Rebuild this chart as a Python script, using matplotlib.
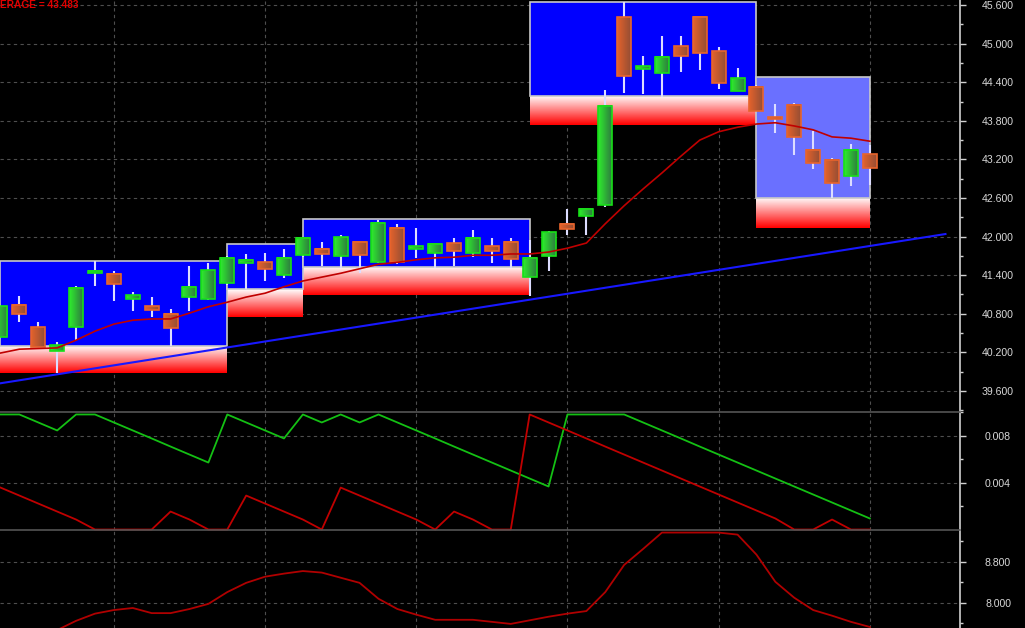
import numpy as np
import matplotlib
matplotlib.use('Agg')
import matplotlib.pyplot as plt
from matplotlib.lines import Line2D
from matplotlib.patches import Rectangle
from matplotlib.ticker import FixedLocator, FormatStrFormatter

# ---------------- data ----------------
opens = [40.44, 40.94, 40.59, 40.22, 40.59, 41.43, 41.42, 41.03, 40.92, 40.80,
         41.06, 41.03, 41.28, 41.59, 41.60, 41.40, 41.71, 41.81, 41.70, 41.92,
         41.60, 42.13, 41.81, 41.74, 41.90, 41.74, 41.85, 41.92, 41.37, 41.70,
         42.20, 42.32, 42.49, 45.41, 44.61, 44.54, 44.96, 45.41, 44.88, 44.27,
         44.33, 43.86, 44.05, 43.35, 43.19, 42.94, 43.28]
highs = [40.93, 41.08, 40.67, 40.36, 41.23, 41.62, 41.47, 41.14, 41.06, 40.87,
         41.54, 41.59, 41.70, 41.73, 41.74, 41.81, 42.00, 41.92, 42.02, 41.93,
         42.26, 42.20, 42.13, 41.89, 41.98, 42.10, 41.98, 41.98, 41.95, 42.09,
         42.43, 42.44, 44.28, 45.65, 44.81, 45.12, 45.12, 45.42, 44.95, 44.62,
         44.35, 44.06, 44.08, 43.64, 43.22, 43.44, 43.42]
lows = [40.43, 40.67, 40.25, 39.88, 40.39, 41.23, 41.00, 40.84, 40.75, 40.30,
        40.84, 41.02, 41.25, 41.19, 41.31, 41.36, 41.69, 41.54, 41.51, 41.43,
        41.59, 41.58, 41.67, 41.51, 41.54, 41.68, 41.59, 41.51, 41.07, 41.47,
        42.02, 42.02, 42.46, 44.23, 44.22, 44.17, 44.56, 44.59, 44.29, 44.26,
        43.93, 43.61, 43.27, 43.05, 42.60, 42.79, 42.80]
closes = [40.92, 40.80, 40.28, 40.31, 41.20, 41.47, 41.26, 41.09, 40.86, 40.58,
          41.22, 41.48, 41.67, 41.64, 41.50, 41.67, 41.98, 41.73, 41.99, 41.71,
          42.21, 41.60, 41.85, 41.88, 41.78, 41.98, 41.78, 41.65, 41.67, 42.07,
          42.12, 42.43, 44.03, 44.50, 44.65, 44.79, 44.81, 44.85, 44.39, 44.47,
          43.95, 43.83, 43.55, 43.14, 42.83, 43.35, 43.07]

sma = [40.19, 40.25, 40.26, 40.27, 40.39, 40.53, 40.64, 40.70, 40.72, 40.72,
       40.81, 40.91, 40.98, 41.06, 41.12, 41.22, 41.31, 41.37, 41.43, 41.50,
       41.57, 41.60, 41.64, 41.67, 41.68, 41.71, 41.71, 41.73, 41.73, 41.76,
       41.82, 41.90, 42.20, 42.48, 42.74, 42.99, 43.25, 43.50, 43.63, 43.70,
       43.75, 43.77, 43.72, 43.66, 43.55, 43.53, 43.483]
sma_label = "ERAGE = 43.483"

box_start = [0, 12, 16, 28, 40]
box_end = [12, 16, 28, 40, 46]
box_top = [41.62, 41.885, 42.27, 45.65, 44.48]
box_mid = [40.30, 41.185, 41.53, 44.19, 42.60]
box_bottom = [39.88, 40.75, 41.09, 43.73, 42.13]
box_colors = ['#0000ff', '#0000ff', '#0000ff', '#0000ff', '#6a70ff']

trend_x = [0, 50]
trend_y = [39.72, 42.04]

green_osc = [0.00979, 0.00979, 0.00911, 0.00843, 0.00979, 0.00979, 0.00911, 0.00843,
             0.00775, 0.00706, 0.00638, 0.00570, 0.00979, 0.00911, 0.00843, 0.00775,
             0.00979, 0.00911, 0.00979, 0.00911, 0.00979, 0.00911, 0.00843, 0.00775,
             0.00706, 0.00638, 0.00570, 0.00502, 0.00434, 0.00366, 0.00979, 0.00979,
             0.00979, 0.00979, 0.00911, 0.00843, 0.00775, 0.00706, 0.00638, 0.00570,
             0.00502, 0.00434, 0.00366, 0.00298, 0.00230, 0.00162, 0.00094]
red_osc = [0.00357, 0.00289, 0.00221, 0.00153, 0.00085, 0.0, 0.0, 0.0,
           0.0, 0.00153, 0.00085, 0.0, 0.0, 0.00289, 0.00221, 0.00153,
           0.00085, 0.0, 0.00357, 0.00289, 0.00221, 0.00153, 0.00085, 0.0,
           0.00153, 0.00085, 0.0, 0.0, 0.00979, 0.00911, 0.00843, 0.00775,
           0.00706, 0.00638, 0.00570, 0.00502, 0.00434, 0.00366, 0.00298, 0.00230,
           0.00162, 0.00094, 0.0, 0.0, 0.00085, 0.0, 0.0]

lower_curve = [7.00, 7.10, 7.28, 7.47, 7.65, 7.79, 7.86, 7.90, 7.80, 7.80,
               7.88, 7.98, 8.21, 8.39, 8.51, 8.57, 8.62, 8.59, 8.49, 8.39,
               8.08, 7.88, 7.77, 7.67, 7.67, 7.67, 7.63, 7.59, 7.66, 7.73,
               7.79, 7.84, 8.21, 8.74, 9.05, 9.37, 9.37, 9.37, 9.37, 9.33,
               8.94, 8.41, 8.10, 7.86, 7.75, 7.63, 7.53]

price_ticks = [39.6, 40.2, 40.8, 41.4, 42.0, 42.6, 43.2, 43.8, 44.4, 45.0, 45.6]
price_minor = [39.3, 39.9, 40.5, 41.1, 41.7, 42.3, 42.9, 43.5, 44.1, 44.7, 45.3]
mid_ticks = [0.004, 0.008]
mid_minor = [0.002, 0.006, 0.00998]
low_ticks = [8.0, 8.8]
low_minor = [7.6, 8.4, 9.2]
vgrid = [6, 14, 22, 30, 38, 46]

# ---------------- figure ----------------
W, H = 1025, 628
fig = plt.figure(figsize=(W / 100, H / 100), dpi=100, facecolor='black')
AXR = 960


def add_ax(y0, y1):
    return fig.add_axes([0, 1 - y1 / H, AXR / W, (y1 - y0) / H])


ax = add_ax(0, 411)
axm = add_ax(412, 530)
axb = add_ax(530, 628)
axm.set_zorder(3)

n = len(opens)
xs = np.arange(n)
FONT = 'Liberation Sans'
LBL = '#d8d8d8'

for a in (ax, axm, axb):
    a.set_facecolor('black')
    for s in ('left', 'top', 'bottom'):
        a.spines[s].set_visible(False)
    a.spines['right'].set_color('#d0d0d0')
    a.spines['right'].set_linewidth(1.2)
    a.yaxis.tick_right()
    a.set_xticks(vgrid)
    a.tick_params(axis='x', length=0, labelbottom=False)
    a.tick_params(axis='y', which='major', direction='out', length=4.3, width=1,
                  color='#d0d0d0', labelcolor=LBL, labelsize=7.6, pad=23.1)
    a.tick_params(axis='y', which='minor', direction='out', length=2.2, width=1,
                  color='#d0d0d0')
    a.grid(True, which='major', color='#4e4e4e', linestyle=(0, (3, 3)), lw=0.8)
    a.set_axisbelow(True)

# ---- boxes ----
for s, e, t, m, b, c in zip(box_start, box_end, box_top, box_mid, box_bottom, box_colors):
    t_ = np.linspace(0, 1, 64)
    grad = np.zeros((64, 1, 3))
    grad[:, 0, 0] = 1.0
    grad[:, 0, 1] = 1 - t_
    grad[:, 0, 2] = 1 - t_
    ax.imshow(grad, extent=[s, e, b, m], aspect='auto', origin='upper',
              interpolation='bilinear', zorder=1)
    ax.add_patch(Rectangle((s, m), e - s, t - m, facecolor=c, edgecolor='#c8c8c8',
                           lw=1.2, zorder=1.5))

# ---- candles ----
bw = 0.74
g_left, g_right = np.array([46, 235, 46]) / 255, np.array([47, 125, 63]) / 255
o_left, o_right = np.array([226, 98, 44]) / 255, np.array([150, 78, 52]) / 255
for i in range(n):
    o, h, l, c = opens[i], highs[i], lows[i], closes[i]
    up = c >= o
    ax.vlines(i, l, h, color='#dcdcff', lw=1.5, zorder=3)
    lo, hi = min(o, c), max(o, c)
    left, right = (g_left, g_right) if up else (o_left, o_right)
    tt = np.linspace(0, 1, 16)[None, :, None]
    img = left[None, None, :] * (1 - tt) + right[None, None, :] * tt
    ax.imshow(img, extent=[i - bw / 2, i + bw / 2, lo, hi], aspect='auto',
              interpolation='bilinear', zorder=4)
    ax.add_patch(Rectangle((i - bw / 2, lo), bw, hi - lo, fill=False,
                           edgecolor='#18e018' if up else '#e8642c', lw=1.2, zorder=5))

ax.plot(xs, sma, color='#c00000', lw=1.2, zorder=6)
ax.plot(trend_x, trend_y, color='#1818ff', lw=1.5, zorder=7)

ax.set_xlim(-0.026, 50.77)
ax.set_ylim(39.289, 45.678)
ax.yaxis.set_major_locator(FixedLocator(price_ticks))
ax.yaxis.set_minor_locator(FixedLocator(price_minor))
ax.yaxis.set_major_formatter(FormatStrFormatter('%.3f'))

# ---- middle oscillator ----
axm.plot(xs, green_osc, color='#14c014', lw=1.3, zorder=4, clip_on=False)
axm.plot(xs, red_osc, color='#c00000', lw=1.3, zorder=4, clip_on=False)
axm.set_xlim(-0.026, 50.77)
axm.set_ylim(-0.00004, 0.0100)
axm.yaxis.set_major_locator(FixedLocator(mid_ticks))
axm.yaxis.set_minor_locator(FixedLocator(mid_minor))
axm.yaxis.set_major_formatter(FormatStrFormatter('%.3f'))

# ---- lower curve ----
axb.plot(xs, lower_curve, color='#b00000', lw=1.3, zorder=4)
axb.set_xlim(-0.026, 50.77)
axb.set_ylim(7.51, 9.42)
axb.yaxis.set_major_locator(FixedLocator(low_ticks))
axb.yaxis.set_minor_locator(FixedLocator(low_minor))
axb.yaxis.set_major_formatter(FormatStrFormatter('%.3f'))

for a in (ax, axm, axb):
    for lab in a.get_yticklabels():
        lab.set_horizontalalignment('center')
        lab.set_family(FONT)

# separators
for yy in (412, 530):
    fig.add_artist(Line2D([0, AXR / W], [1 - yy / H] * 2, color='#555555', lw=1.2, zorder=10))

fig.text(0.5 / W, 1 - 0.5 / H, sma_label, ha='left', va='top', color='#e00000',
         fontsize=7.3, fontweight='bold', family=FONT)

fig.savefig('out.png', dpi=100, facecolor='black')
